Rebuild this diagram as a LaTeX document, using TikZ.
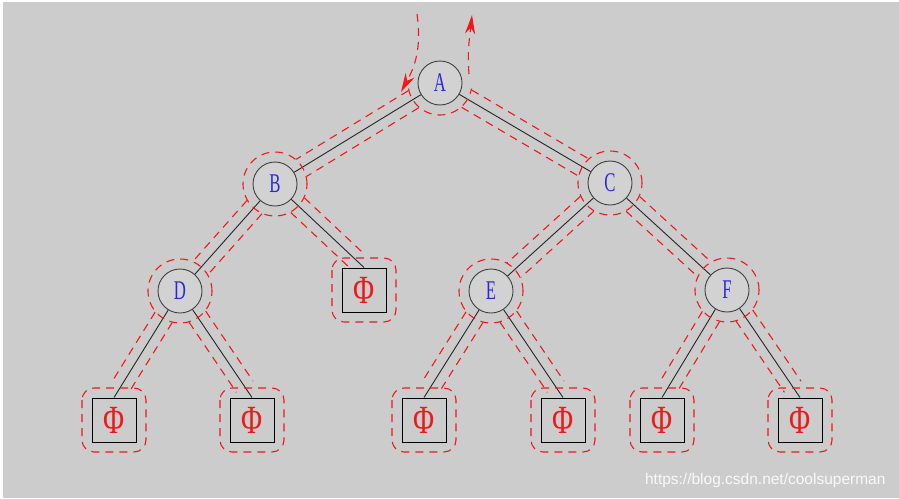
\documentclass[tikz,border=0pt]{standalone}
\usepackage{fontspec}
\setmainfont{Liberation Serif}
\newfontfamily\wmfont{Liberation Sans}
\usetikzlibrary{calc,arrows.meta}
\definecolor{bggray}{HTML}{CCCCCC}
\definecolor{nodegray}{HTML}{D2D2D2}
\definecolor{tourred}{HTML}{F01818}
\definecolor{lblblue}{HTML}{2828E0}
\newcommand{\lbl}[1]{\scalebox{0.62}[1]{\fontsize{27}{28}\selectfont #1}}
\newcommand{\phibox}{\scalebox{0.72}[1]{\fontsize{40}{40}\selectfont Φ}}
\tikzset{
  vtx/.style={circle,draw=black!75,fill=nodegray,line width=0.9pt,minimum size=44pt,inner sep=0pt,text=lblblue},
  leaf/.style={rectangle,draw=black,fill=bggray,line width=1pt,minimum size=44pt,inner sep=0pt,text=tourred},
  tour/.style={draw=tourred,line width=1.1pt,dash pattern=on 8pt off 6pt},
  edge/.style={draw=black!85,line width=0.9pt}
}
\begin{document}
\begin{tikzpicture}[x=1pt,y=-1pt]
  \useasboundingbox (0,0) rectangle (899,498);
  \fill[white] (0,0) rectangle (899,498);
  \fill[bggray] (3,2) rectangle (899,498);

  % tree
  \node[vtx] (A) at (440,83) {\lbl{A}};
  \node[vtx] (B) at (275,184) {\lbl{B}};
  \node[vtx] (C) at (610,183) {\lbl{C}};
  \node[vtx] (D) at (180,291) {\lbl{D}};
  \node[vtx] (E) at (491,291) {\lbl{E}};
  \node[vtx] (F) at (727,290) {\lbl{F}};
  \node[leaf] (b1) at (364,290) {\phibox};
  \node[leaf] (d0) at (114,420) {\phibox};
  \node[leaf] (d1) at (252,420) {\phibox};
  \node[leaf] (e0) at (424,420) {\phibox};
  \node[leaf] (e1) at (563,420) {\phibox};
  \node[leaf] (f0) at (662,420) {\phibox};
  \node[leaf] (f1) at (800,420) {\phibox};

  \foreach \p/\q in {A/B,A/C,B/D,C/E,C/F}
    \draw[edge] (\p) -- (\q);
  \foreach \p/\q in {B/b1,D/d0,D/d1,E/e0,E/e1,F/f0,F/f1}
    \draw[edge] (\p) -- (\q.north);

  % traversal contour
  \draw[tour] (A) ++(190:32pt) arc[start angle=190,end angle=350,radius=32pt];
  \foreach \n in {B,C,D,E,F}
    \draw[tour] (\n) circle[radius=32pt];
  \foreach \n in {b1,d0,d1,e0,e1,f0,f1}
    \draw[tour,rounded corners=12pt] ($(\n)+(-32,-32)$) rectangle ($(\n)+(32,32)$);
  \foreach \p/\q in {A/B,A/C,B/D,C/E,C/F} {
    \draw[tour,shorten <=31pt,shorten >=31pt] ($(\p)!10pt!90:(\q)$) -- ($(\q)!10pt!270:(\p)$);
    \draw[tour,shorten <=31pt,shorten >=31pt] ($(\p)!10pt!270:(\q)$) -- ($(\q)!10pt!90:(\p)$);
  }
  \foreach \p/\q in {B/b1,D/d0,D/d1,E/e0,E/e1,F/f0,F/f1} {
    \draw[tour,shorten <=31pt,shorten >=13pt] ($(\p)!10pt!90:(\q.north)$) -- ($(\q.north)!10pt!270:(\p)$);
    \draw[tour,shorten <=31pt,shorten >=13pt] ($(\p)!10pt!270:(\q.north)$) -- ($(\q.north)!10pt!90:(\p)$);
  }

  % entry and exit
  \coordinate (in0) at (417,14);
  \coordinate (in1) at (401,92);
  \coordinate (out0) at (469,74);
  \coordinate (out1) at (472,15);
  \draw[tour,-{Stealth[length=19pt,width=10pt]}] (in0) .. controls (422,50) and (414,68) .. (in1);
  \draw[tour,-{Stealth[length=19pt,width=10pt]}] (out0) .. controls (467,50) and (470,35) .. (out1);

  \node[anchor=east,text=white!88!bggray,font=\wmfont\fontsize{15.5}{16}\selectfont] (wm) at (889,480) {https://blog.csdn.net/coolsuperman};
\end{tikzpicture}
\end{document}
